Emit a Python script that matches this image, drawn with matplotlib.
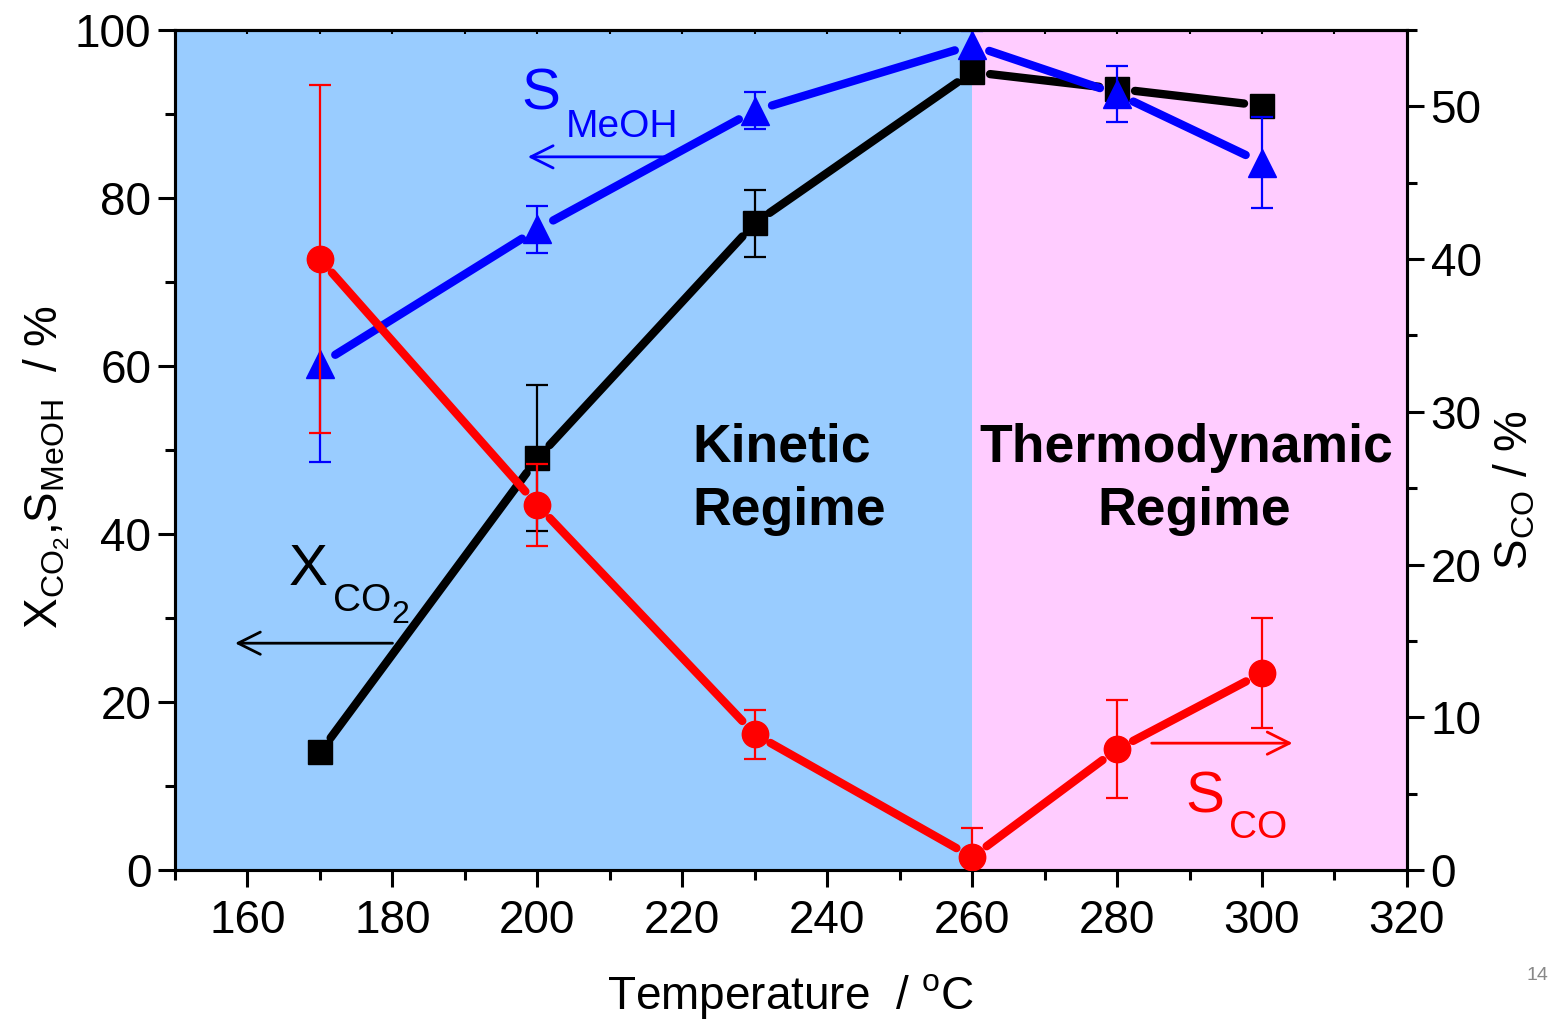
import matplotlib
matplotlib.use("Agg")
import matplotlib.pyplot as plt
from matplotlib.ticker import MultipleLocator

plt.rcParams['font.family'] = ['Liberation Sans', 'DejaVu Sans']
plt.rcParams['mathtext.fontset'] = 'custom'
plt.rcParams['mathtext.rm'] = 'Liberation Sans'
plt.rcParams['mathtext.it'] = 'Liberation Sans:italic'
plt.rcParams['mathtext.bf'] = 'Liberation Sans:bold'

# ---------- data ----------
temps = [170, 200, 230, 260, 280, 300]
x_co2 = [14.0, 49.0, 77.0, 95.0, 93.0, 91.0]
x_co2_err = [0.0, 8.7, 4.0, 0.5, 1.2, 0.5]
s_meoh = [60.2, 76.3, 90.4, 98.2, 92.4, 84.2]
s_meoh_err = [11.6, 2.8, 2.2, 1.7, 3.3, 5.4]
s_co = [40.0, 23.9, 8.9, 0.85, 7.9, 12.9]
s_co_err = [11.4, 2.7, 1.6, 1.9, 3.2, 3.6]

BLUE_BG = '#99CCFF'
PINK_BG = '#FFCCFF'

fig = plt.figure(figsize=(15.61, 10.21), dpi=100)
ax = fig.add_axes([0.1121, 0.1479, 0.7892, 0.8227])
ax2 = ax.twinx()

ax.axvspan(150, 260, color=BLUE_BG, zorder=0, lw=0)
ax.axvspan(260, 320, color=PINK_BG, zorder=0, lw=0)


def draw_series(a, xs, ys, errs, color, marker, ms, z):
    # line segments with a gap around each marker (Origin style)
    for i in range(len(xs) - 1):
        a.annotate('', xy=(xs[i + 1], ys[i + 1]), xytext=(xs[i], ys[i]),
                   arrowprops=dict(arrowstyle='-', color=color, lw=6,
                                   shrinkA=13, shrinkB=13),
                   zorder=z)
    a.plot(xs, ys, ls='none', marker=marker, ms=ms, color=color, mec=color, zorder=z + 1)
    a.errorbar(xs, ys, yerr=errs, fmt='none', ecolor=color, elinewidth=1.6,
               capsize=8, capthick=1.6, zorder=z + 2)


draw_series(ax, temps, x_co2, x_co2_err, 'black', 's', 17, 2)
draw_series(ax, temps, s_meoh, s_meoh_err, 'blue', '^', 20, 5)
draw_series(ax2, temps, s_co, s_co_err, 'red', 'o', 19, 2)

# ---------- axes ----------
ax.set_xlim(150, 320)
ax.set_ylim(0, 100)
ax2.set_ylim(0, 55)

ax.xaxis.set_major_locator(MultipleLocator(20))
ax.xaxis.set_minor_locator(MultipleLocator(10))
ax.yaxis.set_major_locator(MultipleLocator(20))
ax.yaxis.set_minor_locator(MultipleLocator(10))
ax2.yaxis.set_major_locator(MultipleLocator(10))
ax2.yaxis.set_minor_locator(MultipleLocator(5))

for a in (ax, ax2):
    for s in a.spines.values():
        s.set_linewidth(2.2)
ax.tick_params(axis='both', which='major', direction='out', length=12, width=2.2,
               labelsize=33, pad=5)
ax.tick_params(axis='both', which='minor', direction='out', length=7, width=2.2)
ax.tick_params(axis='x', which='major', pad=9)
ax2.tick_params(axis='y', which='major', direction='out', length=12, width=2.2,
                labelsize=33, pad=5)
ax2.tick_params(axis='y', which='minor', direction='out', length=7, width=2.2)

top = ax.secondary_xaxis('top')
top.xaxis.set_major_locator(MultipleLocator(10))
top.tick_params(direction='in', length=3, width=1.5, labeltop=False)
top.spines['top'].set_linewidth(2.2)

ax.set_xlabel(r'Temperature  / $^{\mathrm{o}}$C', fontsize=33)
ax.xaxis.set_label_coords(0.4995, -0.122)
ax.set_ylabel(r'X$_{\mathrm{CO_2}}$,S$_{\mathrm{MeOH}}$  / %', fontsize=33)
ax.yaxis.set_label_coords(-0.0836, 0.48)
ax2.set_ylabel(r'S$_{\mathrm{CO}}$ / %', fontsize=33, rotation=90)
ax2.yaxis.set_label_coords(1.069, 0.452)

# ---------- annotations ----------
ax.text(197.8, 90.5, 'S', fontsize=42, color='blue', va='baseline', zorder=10)
ax.text(203.9, 87.3, 'MeOH', fontsize=28, color='blue', va='baseline', zorder=10)
ax.annotate('', xy=(198.3, 84.9), xytext=(218.3, 84.9),
            arrowprops=dict(arrowstyle='->', color='blue', lw=2, mutation_scale=40),
            zorder=10)

ax.text(165.7, 33.9, 'X', fontsize=42, color='black', va='baseline', zorder=10)
ax.text(171.8, 30.8, 'CO', fontsize=28, color='black', va='baseline', zorder=10)
ax.text(179.9, 29.4, '2', fontsize=23, color='black', va='baseline', zorder=10)
ax.annotate('', xy=(157.9, 27.0), xytext=(180.4, 27.0),
            arrowprops=dict(arrowstyle='->', color='black', lw=2, mutation_scale=40),
            zorder=10)

ax.text(289.4, 6.9, 'S', fontsize=42, color='red', va='baseline', zorder=10)
ax.text(295.4, 3.8, 'CO', fontsize=28, color='red', va='baseline', zorder=10)
ax.annotate('', xy=(304.6, 15.1), xytext=(284.4, 15.1),
            arrowprops=dict(arrowstyle='->', color='red', lw=2, mutation_scale=40),
            zorder=10)

ax.text(221.4, 48.6, 'Kinetic', fontsize=38.5, fontweight='bold', va='baseline', zorder=10)
ax.text(221.4, 41.1, 'Regime', fontsize=38.5, fontweight='bold', va='baseline', zorder=10)
ax.text(289.6, 48.6, 'Thermodynamic', fontsize=38.5, fontweight='bold', ha='center',
        va='baseline', zorder=10)
ax.text(290.6, 41.1, 'Regime', fontsize=38.5, fontweight='bold', ha='center',
        va='baseline', zorder=10)

fig.text(0.985, 0.045, '14', fontsize=14, color='#888888', ha='center', va='center')

fig.savefig('out.png', dpi=100)
